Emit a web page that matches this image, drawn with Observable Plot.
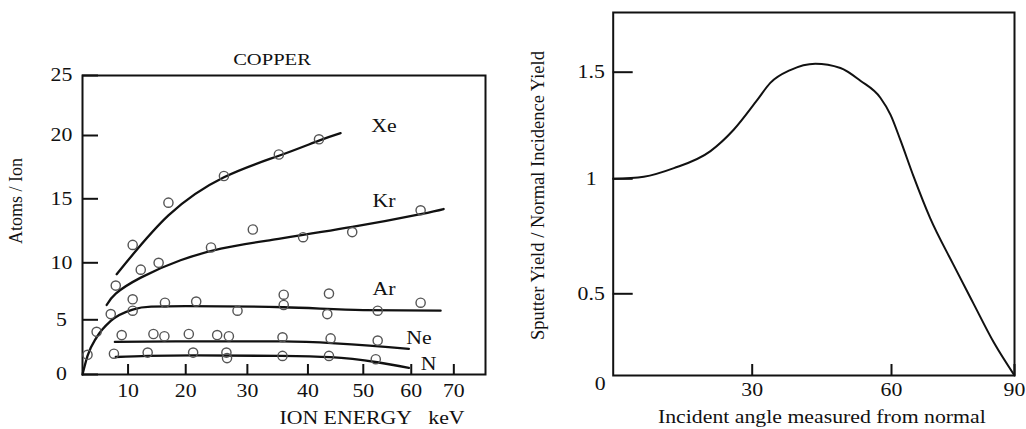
<!DOCTYPE html>
<html><head><meta charset="utf-8">
<script src="https://cdn.jsdelivr.net/npm/d3@7"></script>
<script src="https://cdn.jsdelivr.net/npm/@observablehq/plot@0.6"></script>
<style>
body{margin:0;background:#fff;}
#wrap{display:flex;width:1026px;height:429px;overflow:hidden;}
</style></head><body><div id="wrap"></div>
<script>
// ===== Left chart: COPPER, Atoms / Ion vs ION ENERGY (keV) =====
const energyTicks = [10, 20, 30, 40, 50, 60, 70];
const atomsTicks = [0, 5, 10, 15, 20, 25];

// measured points (open circles)
const xeE = [10.8, 17.0, 26.2, 35.2, 42.0];
const xeY = [11.4, 14.7, 16.8, 18.5, 19.7];
const krE = [7.3, 12.2, 15.3, 24.1, 30.9, 39.2, 48.0, 62.2];
const krY = [8.0, 9.4, 10.0, 11.2, 12.6, 12.0, 12.4, 14.1];
const arE = [1.1, 3.1, 6.2, 10.8, 10.8, 16.4, 21.7, 28.4, 36.0, 36.0, 43.8, 43.5, 53.0, 62.2];
const arY = [1.8, 3.9, 5.5, 6.8, 5.8, 6.5, 6.6, 5.8, 7.2, 6.3, 7.3, 5.5, 5.8, 6.5];
const neE = [8.6, 14.4, 16.3, 20.5, 25.1, 27.0, 35.8, 44.1, 53.0];
const neY = [3.6, 3.7, 3.5, 3.7, 3.6, 3.5, 3.4, 3.3, 3.1];
const nE = [6.9, 13.4, 21.2, 26.6, 26.7, 35.8, 43.8, 52.6];
const nY = [1.9, 2.0, 2.0, 2.0, 1.5, 1.7, 1.7, 1.4];

// fitted curves (solid lines)
const xeCurveE = [7.5, 17.0, 26.2, 35.2, 42.0, 45.9];
const xeCurveY = [9.0, 13.7, 16.7, 18.4, 19.6, 20.2];
const krCurveE = [5.3, 7.3, 12.2, 19.1, 25.7, 33.3, 48.0, 62.2, 67.6];
const krCurveY = [6.3, 7.3, 8.7, 10.2, 11.1, 11.74, 12.8, 13.8, 14.2];
const arCurveE = [0, 1.1, 3.1, 6.2, 10.8, 14, 20, 36, 50, 66.9];
const arCurveY = [0, 1.7, 3.4, 4.9, 5.9, 6.15, 6.2, 6.1, 5.85, 5.8];
const neCurveE = [7.1, 20, 35.8, 59.5];
const neCurveY = [2.98, 3.03, 3.02, 2.35];
const nCurveE = [7.3, 13.4, 21.3, 35.6, 44.1, 52.9, 59.5];
const nCurveY = [1.6, 1.7, 1.75, 1.7, 1.58, 1.12, 0.6];

const gasNames = ["Xe", "Kr", "Ar", "Ne", "N"];
const gasLabelE = [54.3, 54.3, 54.3, 61.8, 64.1];
const gasLabelY = [20.75, 14.8, 7.7, 3.35, 0.98];

// ===== Right chart: Sputter yield ratio vs incident angle =====
const angleTicks = [30, 60, 90];
const ratioTicks = [0.5, 1, 1.5];
const angle = [0, 6.6, 13.1, 21.0, 26.0, 31.1, 33.9, 38.2, 43.6, 49.0, 53.3, 57.6, 59.8, 62.2, 65.4, 69.4, 75, 80, 85, 90];
const ratio = [1.0, 1.01, 1.05, 1.13, 1.23, 1.37, 1.45, 1.51, 1.54, 1.52, 1.46, 1.38, 1.3, 1.18, 1.01, 0.83, 0.63, 0.44, 0.2, 0];

// The printed axes are unevenly graduated: calibration of each axis
// (value -> distance along the printed axis, as measured on the original figure).
const energyCal = {v: [0, 10, 20, 30, 40, 50, 60, 70, 77.4], d: [0, 45.6, 103.3, 165, 225.6, 281, 329, 371.6, 403.3]};
const atomsCal  = {v: [0, 5, 10, 15, 20, 25], d: [0, 54.7, 111.7, 175.7, 239, 299]};
const angleCal  = {v: [0, 30, 60, 90], d: [0, 139, 278.3, 401.3]};
const ratioCal  = {v: [0, 0.5, 1, 1.5, 1.78], d: [0, 81.7, 196.7, 303.3, 363]};
const cal = c => d3.scaleLinear().domain(c.v).range(c.d);
const calDomain = c => [0, c.d[c.d.length - 1]];

// ---- helpers ----
const zipXY = (xs, ys) => xs.map((x, i) => ({x, y: ys[i]}));
const ink = "#111";
const font = "Liberation Serif, Times New Roman, serif";
const fmt = d => `${d}`;

const ptsAll = [
  ...zipXY(xeE, xeY), ...zipXY(krE, krY), ...zipXY(arE, arY),
  ...zipXY(neE, neY), ...zipXY(nE, nY)
];
const curves = [
  [zipXY(xeCurveE, xeCurveY), "natural"], [zipXY(krCurveE, krCurveY), "natural"],
  [zipXY(arCurveE, arCurveY), "monotone-x"],
  [zipXY(neCurveE, neCurveY), "monotone-x"], [zipXY(nCurveE, nCurveY), "monotone-x"]
];
const gasLabels = gasNames.map((g, i) => ({g, x: gasLabelE[i], y: gasLabelY[i]}));

const left = Plot.plot({
  width: 500, height: 429,
  marginLeft: 82, marginRight: 15, marginTop: 75, marginBottom: 55,
  style: {fontFamily: font, fontSize: "18px", color: ink, background: "white"},
  x: {transform: cal(energyCal), domain: calDomain(energyCal)},
  y: {transform: cal(atomsCal), domain: calDomain(atomsCal)},
  marks: [
    Plot.frame({stroke: ink, strokeWidth: 2}),
    Plot.axisY(atomsTicks, {anchor: "left", tickSize: -16, tickPadding: 37, textAnchor: "middle", tickFormat: fmt, strokeWidth: 2, fontSize: 18, label: null}),
    Plot.axisX(energyTicks, {anchor: "bottom", tickSize: -10, tickPadding: 20, tickFormat: fmt, strokeWidth: 2, fontSize: 18, label: null}),
    ...curves.map(([c, k]) => Plot.line(c, {x: "x", y: "y", curve: k, stroke: ink, strokeWidth: 2.3})),
    Plot.dot(ptsAll, {x: "x", y: "y", r: 4.6, stroke: "#555", strokeWidth: 1.4, fill: "none"}),
    Plot.text(gasLabels, {x: "x", y: "y", text: "g", fontSize: 18, fill: ink}),
    Plot.text(["COPPER"], {frameAnchor: "top", textAnchor: "middle", lineAnchor: "middle", dx: -12, dy: -16, fontSize: 17, fill: ink}),
    Plot.text(["Atoms / Ion"], {frameAnchor: "left", textAnchor: "middle", lineAnchor: "middle", rotate: -90, dx: -66, dy: -24, fontSize: 18, fill: ink}),
    Plot.text(["ION ENERGY\u00a0\u00a0\u00a0keV"], {frameAnchor: "bottom", textAnchor: "middle", lineAnchor: "middle", dx: 88, dy: 44, fontSize: 18, fill: ink})
  ]
});

const right = Plot.plot({
  width: 526, height: 429,
  marginLeft: 112.7, marginRight: 12, marginTop: 12, marginBottom: 54,
  style: {fontFamily: font, fontSize: "18px", color: ink, background: "white"},
  x: {transform: cal(angleCal), domain: calDomain(angleCal)},
  y: {transform: cal(ratioCal), domain: calDomain(ratioCal)},
  marks: [
    Plot.frame({stroke: ink, strokeWidth: 2}),
    Plot.axisY(ratioTicks, {anchor: "left", tickSize: -20, tickPadding: 42, textAnchor: "middle", tickFormat: fmt, strokeWidth: 2, fontSize: 18, label: null}),
    Plot.axisX(angleTicks, {anchor: "bottom", tickSize: -11, tickPadding: 19, tickFormat: fmt, strokeWidth: 2, fontSize: 18, label: null}),
    Plot.text(["0"], {x: () => 0, y: () => 0, dx: -13, dy: 9, fontSize: 18, fill: ink}),
    Plot.line(zipXY(angle, ratio), {x: "x", y: "y", curve: "monotone-x", stroke: ink, strokeWidth: 2}),
    Plot.text(["Sputter Yield / Normal Incidence Yield"], {frameAnchor: "left", textAnchor: "middle", lineAnchor: "middle", rotate: -90, dx: -75, dy: 1.5, fontSize: 18.5, fill: ink}),
    Plot.text(["Incident angle measured from normal"], {frameAnchor: "bottom", textAnchor: "middle", lineAnchor: "middle", dx: 8, dy: 42, fontSize: 18, fill: ink})
  ]
});

const wrap = document.getElementById("wrap");
wrap.appendChild(left);
wrap.appendChild(right);

// the scanned figure's horizontal lettering is wider than the font: widen non-rotated text
for (const svg of [left, right]) {
  svg.querySelectorAll("text").forEach(t => {
    const tr = (t.getAttribute("transform") || "");
    if (tr.includes("rotate")) return;
    const len = t.getComputedTextLength();
    if (len > 0) {
      t.setAttribute("textLength", (len * 1.21).toFixed(1));
      t.setAttribute("lengthAdjust", "spacingAndGlyphs");
    }
  });
}
</script>
</body></html>
